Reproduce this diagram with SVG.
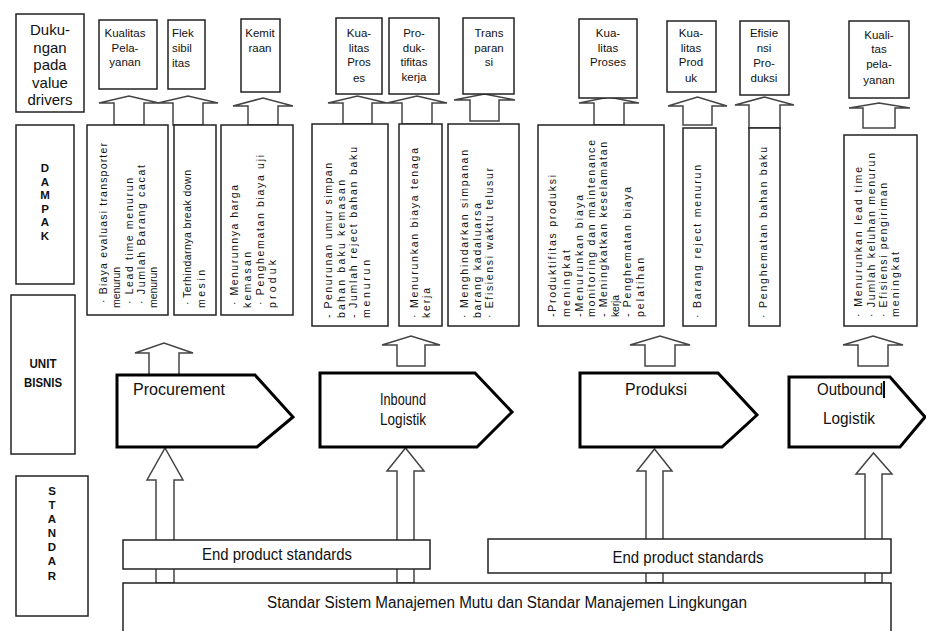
<svg xmlns="http://www.w3.org/2000/svg" width="926" height="631" viewBox="0 0 926 631">
<style>
.box{fill:#fff;stroke:#222;stroke-width:1.5}
.pent{fill:#fff;stroke:#000;stroke-width:3;stroke-linejoin:miter}
.arr{fill:#fff;stroke:#444;stroke-width:1.5;stroke-linejoin:miter}
text{font-family:"Liberation Sans",Arial,sans-serif;fill:#111}
.vd{font-size:11.5px;text-anchor:middle}
.vl{font-size:11.5px}
.dp{font-size:10.5px}
.side{font-size:13px;font-weight:bold;text-anchor:middle}
.dk{font-size:11.5px;font-weight:bold;text-anchor:middle}
.st{font-size:11.5px;font-weight:bold;text-anchor:middle}
.ub{font-size:17px}
.mid{text-anchor:middle}
</style>
<rect width="926" height="631" fill="#fff"/>
<g id="connectors">
  <polygon class="arr" points="114,125 114,103 99,103 129,96 159,103 144,103 144,125"/>
  <polygon class="arr" points="173,125 173,103 158,103 188,96 218,103 203,103 203,125"/>
  <polygon class="arr" points="248,125 248,106 233,106 263,98 293,106 278,106 278,125"/>
  <polygon class="arr" points="343,124 343,103 328,103 357.5,96 387,103 372,103 372,124"/>
  <polygon class="arr" points="402,124 402,103 387,103 417,96 447,103 432,103 432,124"/>
  <polygon class="arr" points="470,121 470,100 454,100 484.5,94 515,100 499,100 499,121"/>
  <polygon class="arr" points="594,125 594,103 579,103 609,97 639,103 624,103 624,125"/>
  <polygon class="arr" points="683,125 683,106 668,106 697.5,97 727,106 712,106 712,125"/>
  <polygon class="arr" points="749,128 749,105 735,105 764.5,97 794,105 780,105 780,128"/>
  <polygon class="arr" points="863,128 863,108 849,108 879,103 910,108 895,108 895,128"/>
  <polygon class="arr" points="149,375 149,353 135,353 164,343 193,353 179,353 179,375"/>
  <polygon class="arr" points="397,366 397,345 382,345 411,336 440,345 425,345 425,366"/>
  <polygon class="arr" points="645,366 645,345 630,345 660,336 690,345 675,345 675,366"/>
  <polygon class="arr" points="858,366 858,345 843,345 873,336 903,345 888,345 888,366"/>
  <polygon class="arr" points="156,583 156,480 147,480 165,448 183,480 174,480 174,583"/>
  <polygon class="arr" points="397,583 397,471 387,471 405.5,448 424,471 414,471 414,583"/>
  <polygon class="arr" points="646,583 646,471 637,471 654.5,449 672,471 663,471 663,583"/>
  <polygon class="arr" points="865,583 865,474 856,474 873.5,453 892,474 882,474 882,583"/>
</g>
<g id="label-value-drivers">
  <rect class="box" x="16" y="14" width="68" height="98"/>
  <text style="font-size:15px" text-anchor="middle"><tspan x="50" y="35">Duku-</tspan><tspan x="50" y="52.5">ngan</tspan><tspan x="50" y="70">pada</tspan><tspan x="50" y="87.5">value</tspan><tspan x="50" y="105">drivers</tspan></text>
</g>
<g id="vd-kualitas-pelayanan-1">
  <rect class="box" x="99" y="20" width="58" height="69"/>
  <text class="vd"><tspan x="125" y="37">Kualitas</tspan><tspan x="125" y="52">Pela-</tspan><tspan x="125" y="66">yanan</tspan></text>
</g>
<g id="vd-fleksibilitas">
  <rect class="box" x="168" y="20" width="37" height="69"/>
  <text class="vl"><tspan x="172" y="37">Flek</tspan><tspan x="172" y="52">sibil</tspan><tspan x="172" y="67">itas</tspan></text>
</g>
<g id="vd-kemitraan">
  <rect class="box" x="241" y="19" width="39" height="73"/>
  <text class="vd"><tspan x="260" y="37">Kemit</tspan><tspan x="260" y="52">raan</tspan></text>
</g>
<g id="vd-kualitas-proses-1">
  <rect class="box" x="336" y="18" width="46" height="76"/>
  <text class="vd"><tspan x="359" y="37">Kua-</tspan><tspan x="359" y="52">litas</tspan><tspan x="359" y="66">Pros</tspan><tspan x="359" y="82">es</tspan></text>
</g>
<g id="vd-produktifitas">
  <rect class="box" x="389" y="18" width="50" height="76"/>
  <text class="vd"><tspan x="414" y="37">Pro-</tspan><tspan x="414" y="52">duk-</tspan><tspan x="414" y="66">tifitas</tspan><tspan x="414" y="81">kerja</tspan></text>
</g>
<g id="vd-transparansi">
  <rect class="box" x="463" y="18" width="51" height="76"/>
  <text class="vd"><tspan x="489" y="37">Trans</tspan><tspan x="489" y="52">paran</tspan><tspan x="489" y="66">si</tspan></text>
</g>
<g id="vd-kualitas-proses-2">
  <rect class="box" x="579" y="19" width="58" height="79"/>
  <text class="vd"><tspan x="608" y="37">Kua-</tspan><tspan x="608" y="52">litas</tspan><tspan x="608" y="66">Proses</tspan></text>
</g>
<g id="vd-kualitas-produk">
  <rect class="box" x="667" y="21" width="49" height="71"/>
  <text class="vd"><tspan x="691" y="37">Kua-</tspan><tspan x="691" y="52">litas</tspan><tspan x="691" y="66">Prod</tspan><tspan x="691" y="82">uk</tspan></text>
</g>
<g id="vd-efisiensi-produksi">
  <rect class="box" x="740" y="21" width="49" height="74"/>
  <text class="vd"><tspan x="764" y="37">Efisie</tspan><tspan x="764" y="52">nsi</tspan><tspan x="764" y="67">Pro-</tspan><tspan x="764" y="82">duksi</tspan></text>
</g>
<g id="vd-kualitas-pelayanan-2">
  <rect class="box" x="849" y="21" width="60" height="77"/>
  <text class="vd"><tspan x="879" y="39">Kuali-</tspan><tspan x="879" y="53">tas</tspan><tspan x="879" y="68">pela-</tspan><tspan x="879" y="84">yanan</tspan></text>
</g>
<g id="label-dampak">
  <rect class="box" x="16" y="125" width="58" height="159"/>
  <text class="dk"><tspan x="45" y="172">D</tspan><tspan x="45" y="185.5">A</tspan><tspan x="45" y="199">M</tspan><tspan x="45" y="212.5">P</tspan><tspan x="45" y="226">A</tspan><tspan x="45" y="239.5">K</tspan></text>
</g>
<g id="label-unit-bisnis">
  <rect class="box" x="11" y="295" width="64" height="159"/>
  <text class="side" x="43" y="368" textLength="27" lengthAdjust="spacingAndGlyphs">UNIT</text>
  <text class="side" x="43" y="387" textLength="38" lengthAdjust="spacingAndGlyphs">BISNIS</text>
</g>
<g id="label-standar">
  <rect class="box" x="16" y="476" width="72" height="140"/>
  <text class="st"><tspan x="52" y="495">S</tspan><tspan x="52" y="509">T</tspan><tspan x="52" y="523">A</tspan><tspan x="52" y="537">N</tspan><tspan x="52" y="551">D</tspan><tspan x="52" y="565">A</tspan><tspan x="52" y="580">R</tspan></text>
</g>
<g id="dampak-procurement-1">
  <rect class="box" x="87" y="125" width="81" height="190"/>
  <text class="dp" transform="translate(107,303) rotate(-90)" textLength="160" lengthAdjust="spacing">· Biaya evaluasi transporter</text>
  <text class="dp" transform="translate(120,308) rotate(-90)" textLength="41" lengthAdjust="spacing">menurun</text>
  <text class="dp" transform="translate(133,304) rotate(-90)" textLength="126" lengthAdjust="spacing">· Lead time menurun</text>
  <text class="dp" transform="translate(145,304) rotate(-90)" textLength="139" lengthAdjust="spacing">· Jumlah Barang cacat</text>
  <text class="dp" transform="translate(157,308) rotate(-90)" textLength="41" lengthAdjust="spacing">menurun</text>
</g>
<g id="dampak-procurement-2">
  <rect class="box" x="174" y="125" width="42" height="190"/>
  <text class="dp" transform="translate(191,305) rotate(-90)" textLength="135" lengthAdjust="spacing">· Terhindarnya break down</text>
  <text class="dp" transform="translate(205,308) rotate(-90)" textLength="38" lengthAdjust="spacing">mesin</text>
</g>
<g id="dampak-procurement-3">
  <rect class="box" x="221" y="125" width="72" height="190"/>
  <text class="dp" transform="translate(238,305) rotate(-90)" textLength="120" lengthAdjust="spacing">· Menurunnya harga</text>
  <text class="dp" transform="translate(251,308) rotate(-90)" textLength="56" lengthAdjust="spacing">kemasan</text>
  <text class="dp" transform="translate(264,305) rotate(-90)" textLength="150" lengthAdjust="spacing">· Penghematan biaya uji</text>
  <text class="dp" transform="translate(276,308) rotate(-90)" textLength="48" lengthAdjust="spacing">produk</text>
</g>
<g id="dampak-inbound-1">
  <rect class="box" x="312" y="124" width="76" height="202"/>
  <text class="dp" transform="translate(332,318) rotate(-90)" textLength="155" lengthAdjust="spacing">- Penurunan umur simpan</text>
  <text class="dp" transform="translate(345,318) rotate(-90)" textLength="138" lengthAdjust="spacing">bahan baku kemasan</text>
  <text class="dp" transform="translate(357,318) rotate(-90)" textLength="171" lengthAdjust="spacing">- Jumlah reject bahan baku</text>
  <text class="dp" transform="translate(370,318) rotate(-90)" textLength="58" lengthAdjust="spacing">menurun</text>
</g>
<g id="dampak-inbound-2">
  <rect class="box" x="399" y="124" width="43" height="202"/>
  <text class="dp" transform="translate(418,318) rotate(-90)" textLength="170" lengthAdjust="spacing">· Menurunkan biaya tenaga</text>
  <text class="dp" transform="translate(430,318) rotate(-90)" textLength="30" lengthAdjust="spacing">kerja</text>
</g>
<g id="dampak-inbound-3">
  <rect class="box" x="448" y="124" width="71" height="202"/>
  <text class="dp" transform="translate(468,318) rotate(-90)" textLength="168" lengthAdjust="spacing">· Menghindarkan simpanan</text>
  <text class="dp" transform="translate(481,318) rotate(-90)" textLength="115" lengthAdjust="spacing">barang kadaluarsa</text>
  <text class="dp" transform="translate(493,318) rotate(-90)" textLength="150" lengthAdjust="spacing">· Efisiensi waktu telusur</text>
</g>
<g id="dampak-produksi-1">
  <rect class="box" x="538" y="125" width="126" height="201"/>
  <text class="dp" transform="translate(556,317) rotate(-90)" textLength="142" lengthAdjust="spacing">-Produktifitas produksi</text>
  <text class="dp" transform="translate(570,317) rotate(-90)" textLength="67" lengthAdjust="spacing">meningkat</text>
  <text class="dp" transform="translate(583,317) rotate(-90)" textLength="122" lengthAdjust="spacing">-Menurunkan biaya</text>
  <text class="dp" transform="translate(595,317) rotate(-90)" textLength="177" lengthAdjust="spacing">monitoring dan maintenance</text>
  <text class="dp" transform="translate(607,317) rotate(-90)" textLength="175" lengthAdjust="spacing">- Meningkatkan keselamatan</text>
  <text class="dp" transform="translate(619,317) rotate(-90)" textLength="22" lengthAdjust="spacing">kerja</text>
  <text class="dp" transform="translate(631,317) rotate(-90)" textLength="130" lengthAdjust="spacing">- Penghematan biaya</text>
  <text class="dp" transform="translate(644,317) rotate(-90)" textLength="59" lengthAdjust="spacing">pelatihan</text>
</g>
<g id="dampak-produksi-2">
  <rect class="box" x="683" y="128" width="33" height="198"/>
  <text class="dp" transform="translate(701,318) rotate(-90)" textLength="153" lengthAdjust="spacing">· Barang reject menurun</text>
</g>
<g id="dampak-produksi-3">
  <rect class="box" x="749" y="128" width="31" height="198"/>
  <text class="dp" transform="translate(767,318) rotate(-90)" textLength="171" lengthAdjust="spacing">· Penghematan bahan baku</text>
</g>
<g id="dampak-outbound">
  <rect class="box" x="844" y="135" width="73" height="191"/>
  <text class="dp" transform="translate(862,317) rotate(-90)" textLength="150" lengthAdjust="spacing">· Menurunkan lead time</text>
  <text class="dp" transform="translate(875,317) rotate(-90)" textLength="164" lengthAdjust="spacing">· Jumlah keluhan menurun</text>
  <text class="dp" transform="translate(887,317) rotate(-90)" textLength="134" lengthAdjust="spacing">· Efisiensi pengiriman</text>
  <text class="dp" transform="translate(899,317) rotate(-90)" textLength="65" lengthAdjust="spacing">meningkat</text>
</g>
<g id="unit-procurement">
  <polygon class="pent" points="117,375 255,375 293,417 257,447 117,447"/>
  <text class="ub" x="133" y="395" textLength="92" lengthAdjust="spacingAndGlyphs">Procurement</text>
</g>
<g id="unit-inbound">
  <polygon class="pent" points="320,373 475,373 512,412 477,447 320,447"/>
  <text class="ub mid" x="403" y="405" textLength="46" lengthAdjust="spacingAndGlyphs">Inbound</text>
  <text class="ub mid" x="403" y="425" textLength="46" lengthAdjust="spacingAndGlyphs">Logistik</text>
</g>
<g id="unit-produksi">
  <polygon class="pent" points="580,373 718,373 757,415 722,447 580,447"/>
  <text class="ub" x="625" y="395" textLength="62" lengthAdjust="spacingAndGlyphs">Produksi</text>
</g>
<g id="unit-outbound">
  <polygon class="pent" points="789,377 890,377 925,417 900,447 789,447"/>
  <text class="ub" x="817" y="395" textLength="66" lengthAdjust="spacingAndGlyphs">Outbound</text>
  <line x1="884" y1="381" x2="884" y2="398" stroke="#000" stroke-width="2"/>
  <text class="ub mid" x="849" y="424" textLength="52" lengthAdjust="spacingAndGlyphs">Logistik</text>
</g>
<g id="std-end-product-1">
  <rect class="box" x="123" y="540" width="307" height="29"/>
  <text class="mid" style="font-size:16px" x="277" y="560" textLength="150" lengthAdjust="spacingAndGlyphs">End product standards</text>
</g>
<g id="std-end-product-2">
  <rect class="box" x="488" y="539" width="403" height="34"/>
  <text class="mid" style="font-size:16px" x="688" y="563" textLength="151" lengthAdjust="spacingAndGlyphs">End product standards</text>
</g>
<g id="std-sistem-manajemen">
  <rect class="box" x="123" y="583" width="768" height="60"/>
  <text style="font-size:16px" x="267" y="608" textLength="480" lengthAdjust="spacingAndGlyphs">Standar Sistem Manajemen Mutu dan Standar Manajemen Lingkungan</text>
</g>
</svg>
